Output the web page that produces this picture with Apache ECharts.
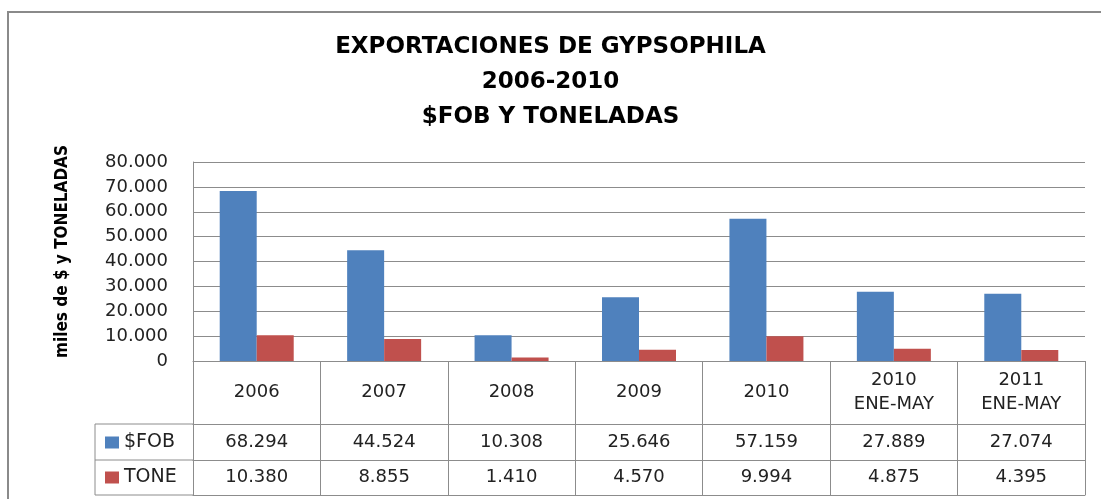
<!DOCTYPE html>
<html>
<head>
<meta charset="UTF-8">
<title>Exportaciones de Gypsophila</title>
<script src="https://cdn.jsdelivr.net/npm/echarts@6/dist/echarts.min.js"></script>
<style>
  html, body { margin: 0; padding: 0; background: #fff; }
  #main { width: 1101px; height: 499px; }
</style>
</head>
<body>
<div id="main"></div>
<script type="text/javascript">
// datos
var categories = ['2006', '2007', '2008', '2009', '2010', '2010\nENE-MAY', '2011\nENE-MAY'];
var fobValues = [68294, 44524, 10308, 25646, 57159, 27889, 27074];
var toneValues = [10380, 8855, 1410, 4570, 9994, 4875, 4395];
var yTicks = [0, 10000, 20000, 30000, 40000, 50000, 60000, 70000, 80000];

var lineColor = '#8c8c8c';
var txtFont = 'DejaVu Sans';

function fmt(v) {
    return String(v).replace(/\B(?=(\d{3})+(?!\d))/g, '.');
}

var myChart = echarts.init(document.getElementById('main'));

// grid: left 193, top 162, right edge 1085, bottom 361
var option = {
    animation: false,
    backgroundColor: '#fff',
    title: {
        text: 'EXPORTACIONES DE GYPSOPHILA\n2006-2010\n$FOB Y TONELADAS',
        left: 'center',
        top: 30,
        padding: 0,
        textStyle: {
            fontFamily: txtFont,
            fontWeight: 'bold',
            fontSize: 23,
            lineHeight: 35,
            color: '#000'
        }
    },
    legend: [
        {
            data: ['$FOB'], left: 105, top: 433, padding: 0,
            icon: 'rect', itemWidth: 14, itemHeight: 12, itemGap: 4,
            selectedMode: false,
            textStyle: { fontFamily: txtFont, fontSize: 19, color: '#222', padding: [0, 0, 0, 0] }
        },
        {
            data: ['TONE'], left: 105, top: 468, padding: 0,
            icon: 'rect', itemWidth: 14, itemHeight: 12, itemGap: 4,
            selectedMode: false,
            textStyle: { fontFamily: txtFont, fontSize: 19, color: '#222', padding: [0, 0, 0, 0] }
        }
    ],
    grid: {
        left: 193,
        right: 16,
        top: 162,
        bottom: 138,
        containLabel: false
    },
    xAxis: [
        {
            type: 'category',
            data: categories,
            boundaryGap: true,
            axisLine: { show: true, lineStyle: { color: lineColor } },
            axisTick: { show: true, interval: 0, length: 63, lineStyle: { color: lineColor } },
            axisLabel: {
                interval: 0, margin: 31, verticalAlign: 'middle', lineHeight: 24,
                fontFamily: txtFont, fontSize: 18, color: '#222'
            }
        },
        {
            type: 'category',
            data: categories,
            position: 'bottom',
            offset: 63,
            boundaryGap: true,
            axisLine: { show: true, lineStyle: { color: lineColor } },
            axisTick: { show: true, interval: 0, length: 36, lineStyle: { color: lineColor } },
            axisLabel: {
                interval: 0, margin: 18, verticalAlign: 'middle',
                fontFamily: txtFont, fontSize: 18, color: '#222',
                formatter: function (v, i) { return fmt(fobValues[i]); }
            }
        },
        {
            type: 'category',
            data: categories,
            position: 'bottom',
            offset: 99,
            boundaryGap: true,
            axisLine: { show: true, lineStyle: { color: lineColor } },
            axisTick: { show: true, interval: 0, length: 35, lineStyle: { color: lineColor } },
            axisLabel: {
                interval: 0, margin: 17, verticalAlign: 'middle',
                fontFamily: txtFont, fontSize: 18, color: '#222',
                formatter: function (v, i) { return fmt(toneValues[i]); }
            }
        },
        {
            type: 'category',
            data: categories,
            position: 'bottom',
            offset: 134,
            boundaryGap: true,
            axisLine: { show: true, lineStyle: { color: lineColor } },
            axisTick: { show: false },
            axisLabel: { show: false }
        }
    ],
    yAxis: {
        type: 'value',
        min: yTicks[0],
        max: yTicks[yTicks.length - 1],
        interval: 10000,
        name: 'miles de $ y TONELADAS',
        nameLocation: 'middle',
        nameRotate: 90,
        nameGap: 122,
        nameTextStyle: {
            fontFamily: 'DejaVu Sans Condensed',
            fontWeight: 'bold',
            fontSize: 17,
            color: '#000',
            padding: [0, 0, 0, 20]
        },
        axisLine: { show: true, lineStyle: { color: lineColor } },
        axisTick: { show: false },
        splitLine: { show: true, lineStyle: { color: lineColor } },
        axisLabel: {
            margin: 25,
            fontFamily: txtFont,
            fontSize: 18,
            color: '#222',
            formatter: function (v) { return fmt(v); }
        }
    },
    series: [
        {
            name: '$FOB',
            type: 'bar',
            barWidth: 37,
            barGap: '0%',
            itemStyle: { color: '#4f81bd' },
            data: fobValues
        },
        {
            name: 'TONE',
            type: 'bar',
            barWidth: 37,
            barGap: '0%',
            itemStyle: { color: '#c0504d' },
            data: toneValues
        }
    ],
    graphic: [
        // marco exterior
        { type: 'rect', silent: true, shape: { x: 8, y: 12, width: 1200, height: 600 },
          style: { fill: 'none', stroke: '#8a8a8a', lineWidth: 2 } },
        // columna de leyenda de la tabla
        { type: 'line', silent: true, shape: { x1: 95, y1: 424, x2: 193, y2: 424 }, style: { stroke: lineColor } },
        { type: 'line', silent: true, shape: { x1: 95, y1: 460, x2: 193, y2: 460 }, style: { stroke: lineColor } },
        { type: 'line', silent: true, shape: { x1: 95, y1: 495, x2: 193, y2: 495 }, style: { stroke: lineColor } },
        { type: 'line', silent: true, shape: { x1: 95, y1: 424, x2: 95, y2: 495 }, style: { stroke: lineColor } }
    ]
};

myChart.setOption(option);
</script>
</body>
</html>
